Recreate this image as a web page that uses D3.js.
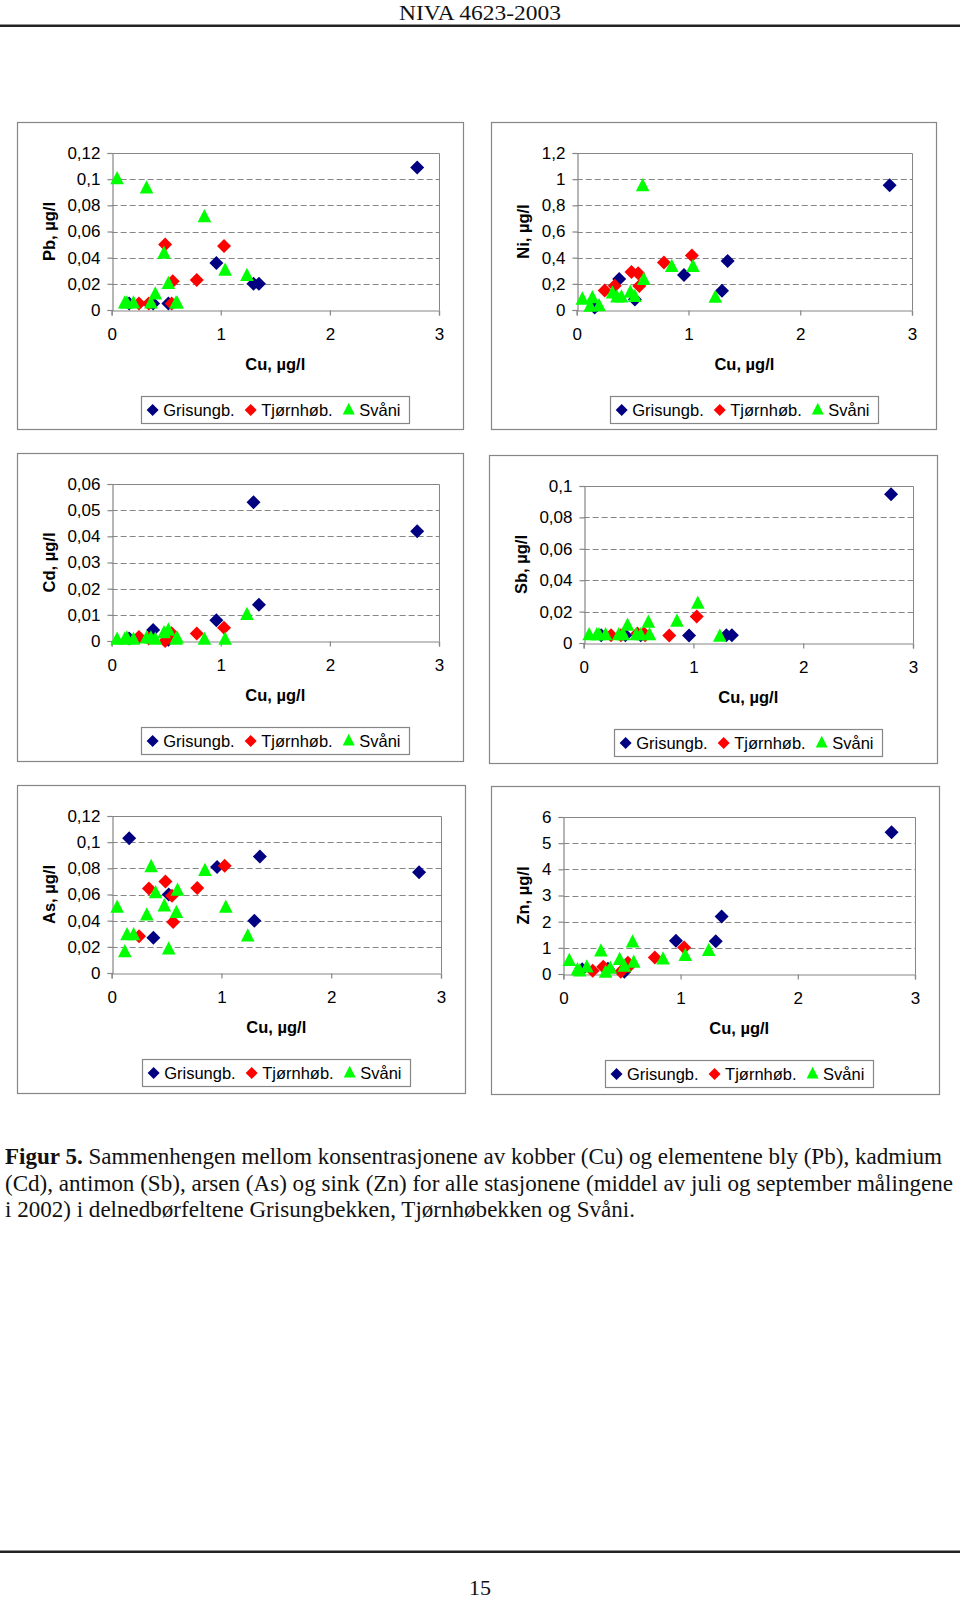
<!DOCTYPE html>
<html><head><meta charset="utf-8">
<script src="https://cdn.jsdelivr.net/npm/d3@7/dist/d3.min.js"></script>
<style>body{margin:0;background:#fff}</style>
</head><body>
<svg id="c" width="960" height="1601"></svg>
<script>
// ---------- data ----------
const seriesNames = ["Grisungb.", "Tjørnhøb.", "Svåni"];
const seriesColors = ["#000080", "#FF0000", "#00FF00"];

const cuGrisungb = [0.16, 0.38, 0.52, 0.96, 1.30, 1.35, 2.80];
const cuTjornhob = [0.25, 0.34, 0.49, 0.55, 0.56, 0.78, 1.03];
const cuSvani    = [0.05, 0.12, 0.14, 0.20, 0.32, 0.36, 0.40, 0.48, 0.52, 0.59, 0.60, 0.85, 1.04, 1.24];

const pbGrisungb = [0.005, 0.005, 0.005, 0.036, 0.020, 0.020, 0.109];
const pbTjornhob = [0.005, 0.005, 0.050, 0.005, 0.022, 0.023, 0.049];
const pbSvani    = [0.100, 0.005, 0.005, 0.005, 0.093, 0.005, 0.012, 0.043, 0.020, 0.005, 0.005, 0.071, 0.030, 0.026];

const niGrisungb = [0.02, 0.236, 0.081, 0.267, 0.148, 0.374, 0.953];
const niTjornhob = [0.15, 0.186, 0.29, 0.28, 0.183, 0.364, 0.417];
const niSvani    = [0.08, 0.025, 0.09, 0.03, 0.127, 0.097, 0.097, 0.132, 0.10, 0.946, 0.23, 0.33, 0.33, 0.094];

const cdGrisungb = [0.001, 0.0042, 0.0005, 0.0079, 0.053, 0.0139, 0.0419];
const cdTjornhob = [0.0015, 0.001, 0.0, 0.003, 0.002, 0.0029, 0.0051];
const cdSvani    = [0.0005, 0.0005, 0.001, 0.0005, 0.001, 0.001, 0.0005, 0.003, 0.004, 0.0005, 0.001, 0.0005, 0.0005, 0.010];

const sbGrisungb = [0.005, 0.005, 0.005, 0.0047, 0.005, 0.005, 0.0947];
const sbTjornhob = [0.005, 0.005, 0.006, 0.006, 0.005, 0.0047, 0.0168];
const sbSvani    = [0.005, 0.005, 0.005, 0.005, 0.005, 0.005, 0.011, 0.005, 0.005, 0.013, 0.005, 0.0136, 0.025, 0.004];

const asGrisungb = [0.103, 0.027, 0.060, 0.081, 0.040, 0.089, 0.077];
const asTjornhob = [0.028, 0.0645, 0.070, 0.059, 0.039, 0.065, 0.082];
const asSvani    = [0.050, 0.016, 0.029, 0.029, 0.044, 0.081, 0.061, 0.051, 0.018, 0.046, 0.063, 0.078, 0.050, 0.028];

const znGrisungb = [0.18, 0.2, 0.09, 1.27, 1.25, 2.2, 5.42];
const znTjornhob = [0.12, 0.28, 0.09, 0.43, 0.3, 0.63, 1.01];
const znSvani    = [0.5, 0.15, 0.1, 0.25, 0.86, 0.05, 0.2, 0.54, 0.28, 1.21, 0.43, 0.56, 0.69, 0.88];

const xTicks  = [0, 1, 2, 3];
const pbTicks = [0, 0.02, 0.04, 0.06, 0.08, 0.1, 0.12];
const niTicks = [0, 0.2, 0.4, 0.6, 0.8, 1, 1.2];
const cdTicks = [0, 0.01, 0.02, 0.03, 0.04, 0.05, 0.06];
const sbTicks = [0, 0.02, 0.04, 0.06, 0.08, 0.1];
const asTicks = [0, 0.02, 0.04, 0.06, 0.08, 0.1, 0.12];
const znTicks = [0, 1, 2, 3, 4, 5, 6];

const xTitle = "Cu, µg/l";
const headerText = "NIVA 4623-2003";
const pageNumber = "15";
const captionBold = "Figur 5.";
const captionLines = [
  " Sammenhengen mellom konsentrasjonene av kobber (Cu) og elementene bly (Pb), kadmium",
  "(Cd), antimon (Sb), arsen (As) og sink (Zn) for alle stasjonene (middel av juli og september målingene",
  "i 2002) i delnedbørfeltene Grisungbekken, Tjørnhøbekken og Svåni."
];

const cuSeries = [cuGrisungb, cuTjornhob, cuSvani];
const panels = [
  {title: "Pb, µg/l", ticks: pbTicks, ys: [pbGrisungb, pbTjornhob, pbSvani], frame: [17, 122, 446, 307]},
  {title: "Ni, µg/l", ticks: niTicks, ys: [niGrisungb, niTjornhob, niSvani], frame: [491, 122, 445, 307]},
  {title: "Cd, µg/l", ticks: cdTicks, ys: [cdGrisungb, cdTjornhob, cdSvani], frame: [17, 453, 446, 308]},
  {title: "Sb, µg/l", ticks: sbTicks, ys: [sbGrisungb, sbTjornhob, sbSvani], frame: [489, 455, 448, 308]},
  {title: "As, µg/l", ticks: asTicks, ys: [asGrisungb, asTjornhob, asSvani], frame: [17, 785, 448, 308]},
  {title: "Zn, µg/l", ticks: znTicks, ys: [znGrisungb, znTjornhob, znSvani], frame: [491, 786, 448, 308]}
];

// ---------- drawing ----------
const svg = d3.select("#c");
svg.append("rect").attr("width", 960).attr("height", 1601).attr("fill", "#fff");

const SERIF = "'Liberation Serif', 'Times New Roman', serif";
const SANS = "'Liberation Sans', Arial, sans-serif";
const GRAY = "#868686";
const TICK_FS = 17, LAB_FS = 16.5;

// header
svg.append("text").attr("x", 480).attr("y", 20).attr("text-anchor", "middle")
  .attr("font-family", SERIF).attr("font-size", 22).attr("fill", "#111")
  .attr("textLength", 162).attr("lengthAdjust", "spacingAndGlyphs").text(headerText);
svg.append("rect").attr("x", 0).attr("y", 24.5).attr("width", 960).attr("height", 2.5).attr("fill", "#222");
svg.append("rect").attr("x", 0).attr("y", 1550.5).attr("width", 960).attr("height", 2.5).attr("fill", "#222");
svg.append("text").attr("x", 480).attr("y", 1595).attr("text-anchor", "middle")
  .attr("font-family", SERIF).attr("font-size", 22).attr("fill", "#111")
  .attr("textLength", 22).attr("lengthAdjust", "spacingAndGlyphs").text(pageNumber);

// caption
const capWidths = [937, 948, 630];
const capY = [1164, 1191, 1217];
captionLines.forEach((line, i) => {
  const t = svg.append("text").attr("x", 5).attr("y", capY[i])
    .attr("font-family", SERIF).attr("font-size", 22.5).attr("fill", "#111")
    .attr("textLength", capWidths[i]).attr("lengthAdjust", "spacingAndGlyphs");
  if (i === 0) t.append("tspan").attr("font-weight", "bold").text(captionBold);
  t.append("tspan").text(line);
});

// marker shapes
const diamondPath = (s) => `M0,${-s}L${s},0L0,${s}L${-s},0Z`;
const trianglePath = (s) => `M0,${-s * 1.2}L${s},${s * 0.75}L${-s},${s * 0.75}Z`;
const markerPath = (i, s) => i < 2 ? diamondPath(s) : trianglePath(s);

// text width measurement
const measurer = svg.append("text").attr("font-family", SANS).attr("visibility", "hidden");
function textW(str, fs, weight) {
  measurer.attr("font-size", fs).attr("font-weight", weight || "normal").text(str);
  return measurer.node().getComputedTextLength();
}
const fmt = v => String(v).replace(".", ",");

panels.forEach(p => {
  const [fx, fy, fw, fh] = p.frame;
  const g = svg.append("g");
  g.append("rect").attr("x", fx + 0.5).attr("y", fy + 0.5).attr("width", fw).attr("height", fh)
    .attr("fill", "#fff").attr("stroke", GRAY).attr("stroke-width", 1.2);

  const maxLab = d3.max(p.ticks, t => textW(fmt(t), 16));
  const left = fx + 51 + maxLab + 12.5;
  const right = fx + fw - 24;
  const top = fy + 31;
  const bottom = fy + 188;

  const x = d3.scaleLinear().domain([0, 3]).range([left, right]);
  const y = d3.scaleLinear().domain([0, d3.max(p.ticks)]).range([bottom, top]);

  // gridlines
  g.selectAll("line.grid").data(p.ticks.slice(1, -1)).join("line")
    .attr("x1", left).attr("x2", right)
    .attr("y1", d => Math.round(y(d)) + 0.5).attr("y2", d => Math.round(y(d)) + 0.5)
    .attr("stroke", GRAY).attr("stroke-width", 1).attr("stroke-dasharray", "6,3");
  // plot border top/right
  g.append("path")
    .attr("d", `M${left},${Math.round(top) + 0.5}H${Math.round(right) + 0.5}V${bottom}`)
    .attr("fill", "none").attr("stroke", GRAY).attr("stroke-width", 1);

  // axes
  const yAxis = d3.axisLeft(y).tickValues(p.ticks).tickSize(5).tickPadding(7).tickFormat(fmt);
  const xAxis = d3.axisBottom(x).tickValues(xTicks).tickSize(5).tickPadding(12).tickFormat(fmt);
  const ya = g.append("g").attr("transform", `translate(${Math.round(left) + 0.5},0)`).call(yAxis);
  const xa = g.append("g").attr("transform", `translate(0,${Math.round(bottom) + 0.5})`).call(xAxis);
  [ya, xa].forEach(a => {
    a.select(".domain").attr("stroke", GRAY).attr("stroke-width", 1.2);
    a.selectAll(".tick line").attr("stroke", GRAY).attr("stroke-width", 1.2);
    a.selectAll("text").attr("font-family", SANS).attr("font-size", TICK_FS).attr("fill", "#000");
  });

  // axis titles
  g.append("text").attr("x", (left + right) / 2).attr("y", bottom + 59.5)
    .attr("text-anchor", "middle").attr("font-family", SANS).attr("font-size", LAB_FS)
    .attr("font-weight", "bold").text(xTitle);
  g.append("text").attr("transform", `translate(${fx + 37.5},${(top + bottom) / 2}) rotate(-90)`)
    .attr("text-anchor", "middle").attr("font-family", SANS).attr("font-size", LAB_FS)
    .attr("font-weight", "bold").text(p.title);

  // points
  p.ys.forEach((ys, si) => {
    const pts = ys.map((v, k) => [cuSeries[si][k], v]);
    g.append("g").selectAll("path").data(pts).join("path")
      .attr("transform", d => `translate(${x(d[0])},${y(d[1])})`)
      .attr("d", markerPath(si, si < 2 ? 7 : 6.8))
      .attr("fill", seriesColors[si]);
  });

  // legend
  const widths = seriesNames.map(n => textW(n, LAB_FS));
  const total = 11.5 + widths.reduce((a, w) => a + 10.5 + w, 0) + 16 * 2 + 9;
  const lx = (left + right) / 2 - total / 2;
  const ly = fy + 274;
  g.append("rect").attr("x", Math.round(lx) + 0.5).attr("y", ly + 0.5).attr("width", Math.round(total)).attr("height", 27)
    .attr("fill", "#fff").attr("stroke", GRAY).attr("stroke-width", 1.2);
  let cx = lx + 11.5;
  seriesNames.forEach((n, si) => {
    g.append("path").attr("transform", `translate(${cx},${ly + 14})`)
      .attr("d", markerPath(si, 6)).attr("fill", seriesColors[si]);
    g.append("text").attr("x", cx + 10.5).attr("y", ly + 19.5)
      .attr("font-family", SANS).attr("font-size", LAB_FS).attr("fill", "#000").text(n);
    cx += 10.5 + widths[si] + 16;
  });
});
measurer.remove();
</script>
</body></html>
